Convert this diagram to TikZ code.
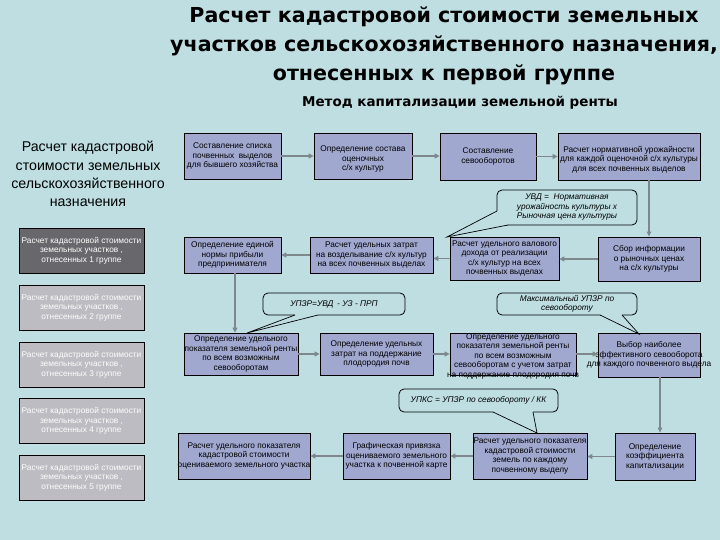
\documentclass[tikz,border=0pt]{standalone}
\usepackage{fontspec}
\setmainfont{Liberation Sans}
\newfontfamily\titlefont{DejaVu Sans}
\usetikzlibrary{arrows.meta}
\definecolor{bg}{RGB}{190,222,226}
\definecolor{boxfill}{RGB}{160,168,208}
\definecolor{darkg}{RGB}{104,104,108}
\definecolor{lightg}{RGB}{188,188,194}
\definecolor{arr}{RGB}{125,135,140}
\begin{document}
\begin{tikzpicture}[x=1pt,y=-1pt,
  box/.style={draw=black, line width=0.8pt, fill=boxfill, inner sep=0pt},
  lbox/.style={draw=black, line width=0.8pt, inner sep=0pt, minimum width=125pt, minimum height=45pt},
  txt/.style={align=center, font=\fontsize{8.3}{9.5}\selectfont, inner sep=0pt},
  wtxt/.style={txt, text=white},
  call/.style={draw=black, line width=0.8pt, rounded corners=5pt, fill=bg, inner sep=0pt},
  ctxt/.style={align=center, font=\fontsize{8.3}{9.5}\selectfont\itshape, inner sep=0pt},
  flow/.style={draw=arr, line width=1.5pt, -{Triangle[length=5pt,width=5pt]}},
  vflow/.style={draw=arr, line width=1.1pt, -{Triangle[length=5pt,width=4.5pt]}},
  ptr/.style={draw=black, line width=0.7pt}]
\useasboundingbox[fill=bg] (0,0) rectangle (720,540);

% title
\node[font=\titlefont\fontsize{20.6}{29}\selectfont\bfseries, align=center, inner sep=0pt] (title) at (444,46)
  {Расчет кадастровой стоимости земельных\\участков сельскохозяйственного назначения,\\отнесенных к первой группе};
\node[font=\titlefont\fontsize{13.5}{15}\selectfont\bfseries, inner sep=0pt] (sub) at (460,103) {Метод капитализации земельной ренты};

% left column
\node[font=\fontsize{14.2}{18.2}\selectfont, align=center, inner sep=0pt] (lh) at (88,174)
  {Расчет кадастровой\\стоимости земельных\\сельскохозяйственного\\назначения};
\node[lbox, fill=darkg] (g1) at (81.5,250.5) {};
\node[wtxt] at (g1.center) {Расчет кадастровой стоимости\\земельных участков ,\\отнесенных 1 группе};
\node[lbox, fill=lightg] (g2) at (81.5,307.5) {};
\node[wtxt] at (g2.center) {Расчет кадастровой стоимости\\земельных участков ,\\отнесенных 2 группе};
\node[lbox, fill=lightg] (g3) at (81.5,364.5) {};
\node[wtxt] at (g3.center) {Расчет кадастровой стоимости\\земельных участков ,\\отнесенных 3 группе};
\node[lbox, fill=lightg] (g4) at (81.5,421) {};
\node[wtxt] at (g4.center) {Расчет кадастровой стоимости\\земельных участков ,\\отнесенных 4 группе};
\node[lbox, fill=lightg] (g5) at (81.5,477.5) {};
\node[wtxt] at (g5.center) {Расчет кадастровой стоимости\\земельных участков ,\\отнесенных 5 группе};

% row 1
\node[box, minimum width=97pt, minimum height=46pt] (A) at (232.5,156) {};
\node[txt] at (A.center) {Составление списка\\почвенных \ выделов\\для бывшего хозяйства};
\node[box, minimum width=98pt, minimum height=46pt] (B) at (363,156) {};
\node[txt] at ([yshift=-3pt]B.center) {Определение состава\\оценочных\\с/х культур};
\node[box, minimum width=96pt, minimum height=47pt] (C) at (488,156.5) {};
\node[txt] at (C.center) {Составление\\севооборотов};
\node[box, minimum width=142pt, minimum height=47pt] (D) at (629,156.5) {};
\node[txt] at ([yshift=-3pt]D.center) {Расчет нормативной урожайности\\для каждой оценочной с/х культуры\\для всех почвенных выделов};

% row 2
\node[box, minimum width=97pt, minimum height=36pt] (E) at (232.5,255) {};
\node[txt] at (E.center) {Определение единой\\нормы прибыли\\предпринимателя};
\node[box, minimum width=123pt, minimum height=36pt] (F) at (371.5,255) {};
\node[txt] at (F.center) {Расчет удельных затрат\\на возделывание с/х культур\\на всех почвенных выделах};
\node[box, minimum width=109pt, minimum height=43pt] (G) at (504.5,258.5) {};
\node[txt] at (G.center) {Расчет удельного валового\\дохода от реализации\\с/х культур на всех\\почвенных выделах};
\node[box, minimum width=102pt, minimum height=44pt] (H) at (649,259) {};
\node[txt] at (H.center) {Сбор информации\\о рыночных ценах\\на с/х культуры};

% row 3
\node[box, minimum width=114pt, minimum height=42pt] (I) at (241,354) {};
\node[txt] at (I.center) {Определение удельного\\показателя земельной ренты\\по всем возможным\\севооборотам};
\node[box, minimum width=113pt, minimum height=42pt] (J) at (376.5,354) {};
\node[txt] at (J.center) {Определение удельных\\затрат на поддержание\\плодородия почв};
\node[box, minimum width=126pt, minimum height=42pt] (K) at (513,354) {};
\node[txt] at ([yshift=-2pt]K.center) {Определение удельного\\показателя земельной ренты\\по всем возможным\\севооборотам с учетом затрат\\на поддержание плодородия почв};
\node[box, minimum width=102pt, minimum height=44pt] (L) at (649,355) {};
\node[txt] at (L.center) {Выбор наиболее\\эффективного севооборота\\для каждого почвенного выдела};

% row 4
\node[box, minimum width=132pt, minimum height=46pt] (M) at (244,456) {};
\node[txt] at (M.center) {Расчет удельного показателя\\кадастровой стоимости\\оцениваемого земельного участка};
\node[box, minimum width=107pt, minimum height=46pt] (N) at (396.5,456) {};
\node[txt] at (N.center) {Графическая привязка\\оцениваемого земельного\\участка к почвенной карте};
\node[box, minimum width=114pt, minimum height=46pt] (O) at (530,456) {};
\node[txt] at (O.center) {Расчет удельного показателя\\кадастровой стоимости\\земель по каждому\\почвенному выделу};
\node[box, minimum width=80pt, minimum height=47pt] (P) at (655,456.5) {};
\node[txt] at (P.center) {Определение\\коэффициента\\капитализации};

% flows
\draw[flow] (A.east) -- (B.west);
\draw[flow] (B.east) -- (B.east -| C.west);
\draw[flow] (C.east) -- (C.east -| D.west);
\draw[vflow] (D.south -| H.north) -- (H.north);
\draw[flow] (H.west) -- (H.west -| G.east);
\draw[flow] (G.west) -- (G.west -| F.east);
\draw[flow] (F.west) -- (F.west -| E.east);
\draw[flow] ([xshift=2.5pt]E.south) -- ([xshift=2.5pt]E.south |- I.north);
\draw[flow] (I.east) -- (I.east -| J.west);
\draw[flow] (J.east) -- (J.east -| K.west);
\draw[flow] (K.east) -- (K.east -| L.west);
\draw[vflow] ([xshift=5pt]L.south -| P.north) -- ([xshift=5pt]P.north);
\draw[flow] (P.west) -- (P.west -| O.east);
\draw[flow] (O.west) -- (O.west -| N.east);
\draw[flow] (N.west) -- (N.west -| M.east);

% callouts
\node[call, minimum width=140pt, minimum height=35pt] (c1) at (567,207.5) {};
\node[ctxt] at (c1.center) {УВД = \ Нормативная\\урожайность культуры х\\Рыночная цена культуры};
\coordinate (t1) at (447,237);
\fill[bg] (497,211) -- (t1) -- (508,225) -- (506,222) -- (500,216) -- (499.5,211) -- cycle;
\draw[ptr] (497,211) -- (t1) -- (508,225);

\node[call, minimum width=142pt, minimum height=22pt] (c2) at (334,304) {};
\node[ctxt] at (c2.center) {УПЗР=УВД \,- УЗ - ПРП};
\coordinate (t2) at (247,333);
\fill[bg] (295,313) -- (295,315) -- (t2) -- (318,315) -- (318,313) -- cycle;
\draw[ptr] (295,315) -- (t2) -- (318,315);

\node[call, minimum width=140pt, minimum height=22pt] (c3) at (567,304) {};
\node[ctxt] at (c3.center) {Максимальный УПЗР по\\севообороту};
\coordinate (t3) at (639,334);
\fill[bg] (600,313) -- (600,315) -- (t3) -- (622,315) -- (622,313) -- cycle;
\draw[ptr] (600,315) -- (t3) -- (622,315);

\node[call, minimum width=159pt, minimum height=23pt] (c4) at (478.5,400.5) {};
\node[ctxt] at (c4.center) {УПКС = УПЗР по севообороту / КК};
\coordinate (t4) at (537,433);
\fill[bg] (493,410) -- (493,412) -- (t4) -- (533,412) -- (533,410) -- cycle;
\draw[ptr] (493,412) -- (t4) -- (533,412);
\end{tikzpicture}
\end{document}
